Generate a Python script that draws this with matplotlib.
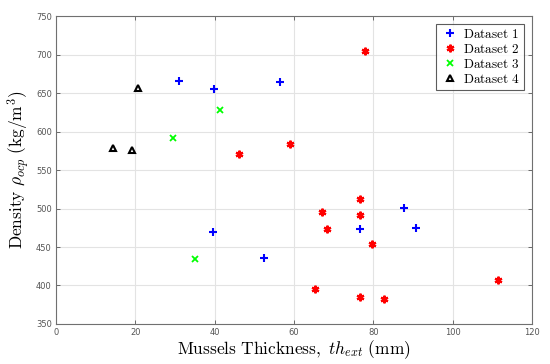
import matplotlib
matplotlib.use("Agg")
import matplotlib.pyplot as plt

plt.rcParams['mathtext.fontset'] = 'cm'

d1_x = [31.1, 39.8, 56.5, 39.7, 52.5, 76.6, 87.7, 90.8]
d1_y = [665, 655, 664, 469, 436, 474, 501, 475]
d2_x = [46.1, 78.0, 58.9, 67.0, 68.4, 76.6, 76.6, 79.6, 65.3, 76.6, 82.8, 111.5]
d2_y = [571, 705, 584, 496, 474, 512, 491, 454, 395, 385, 382, 407]
d3_x = [29.5, 41.3, 35.0]
d3_y = [592, 628, 435]
d4_x = [14.3, 19.2, 20.7]
d4_y = [579, 576, 656]

labels = ["Dataset 1", "Dataset 2", "Dataset 3", "Dataset 4"]
xticks = [0, 20, 40, 60, 80, 100, 120]
yticks = [350, 400, 450, 500, 550, 600, 650, 700, 750]

fig = plt.figure(figsize=(5.5, 3.64), dpi=100)
ax = fig.add_axes([0.1018, 0.1099, 0.8655, 0.8461])

def lab(s):
    return r'$\mathrm{' + s.replace(' ', r'\ ') + '}$'

ax.plot(d1_x, d1_y, linestyle='none', marker='+', color='#0000ff', ms=6, mew=1.5, label=lab(labels[0]))
ax.plot(d2_x, d2_y, linestyle='none', marker=(6, 2, 0), color='#ff0000', ms=5.5, mew=1.6, label=lab(labels[1]))
ax.plot(d3_x, d3_y, linestyle='none', marker='x', color='#00ff00', ms=5, mew=1.3, label=lab(labels[2]))
ax.plot(d4_x, d4_y, linestyle='none', marker='^', color='black', mfc='none', ms=5, mew=1.5, label=lab(labels[3]))

ax.set_xlim(0, 120)
ax.set_ylim(350, 750)
ax.set_xticks(xticks)
ax.set_yticks(yticks)
ax.grid(True, color='#e3e3e3', linewidth=0.8)
ax.set_axisbelow(True)
ax.tick_params(direction='in', top=True, right=True, labelsize=6, colors='#555555',
               length=3, width=0.6, pad=3)
for s in ax.spines.values():
    s.set_color('#707070')
    s.set_linewidth(0.8)

ax.set_xlabel(r'$\mathrm{Mussels\ Thickness,}\ th_{ext}\ \mathrm{(mm)}$', fontsize=12.5, labelpad=1)
ax.set_ylabel(r'$\mathrm{Density}\ \rho_{ocp}\ \mathrm{(kg/m^3)}$', fontsize=12.5, labelpad=3)

leg = ax.legend(loc='upper right', fontsize=9.5, frameon=True, fancybox=False,
                edgecolor='#333333', borderpad=0.3, handletextpad=0.3, labelspacing=0.15,
                handlelength=1.5, borderaxespad=0.6)
leg.get_frame().set_linewidth(0.8)

fig.savefig("out.png", dpi=100)
